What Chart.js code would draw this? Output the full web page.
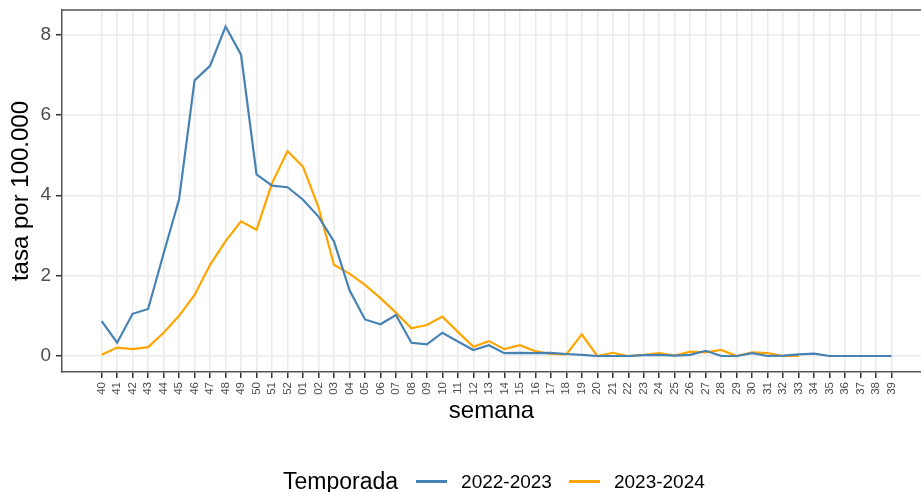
<!DOCTYPE html>
<html>
<head>
<meta charset="utf-8">
<script src="https://cdn.jsdelivr.net/npm/chart.js@4.4.1/dist/chart.umd.min.js"></script>
<style>
  html, body { margin: 0; padding: 0; background: #fff; }
  #wrap { position: relative; width: 921px; height: 492px; overflow: hidden; }
  #legend {
    position: absolute; left: 283px; top: 468px;
    display: flex; align-items: center; white-space: nowrap;
    font-family: 'Liberation Sans', Arial, sans-serif; color: #000;
  }
  #legend .ttl { font-size: 23px; margin-right: 18px; }
  #legend .key { width: 31px; height: 2.5px; margin-right: 14px; }
  #legend .lbl { font-size: 19px; margin-right: 17px; }
</style>
</head>
<body>
<div id="wrap">
  <canvas id="chart" width="921" height="492"></canvas>
  <div id="legend"></div>
</div>
<script>
// semanas epidemiologicas (temporada 40 -> 39)
const weeks = ['40','41','42','43','44','45','46','47','48','49','50','51','52',
  '01','02','03','04','05','06','07','08','09','10','11','12','13','14','15','16','17','18','19','20',
  '21','22','23','24','25','26','27','28','29','30','31','32','33','34','35','36','37','38','39'];

const rate2022 = [0.87, 0.33, 1.05, 1.17, 2.55, 3.9, 6.86, 7.22, 8.2, 7.5, 4.52, 4.24, 4.2,
  3.89, 3.47, 2.85, 1.64, 0.91, 0.79, 1.02, 0.33, 0.29, 0.58, 0.36, 0.15, 0.27, 0.07, 0.08, 0.07, 0.08, 0.05, 0.03, 0.0,
  0.0, 0.0, 0.02, 0.03, 0.01, 0.03, 0.13, 0.0, 0.0, 0.07, 0.0, 0.01, 0.04, 0.06, 0.0, 0.0, 0.0, 0.0, 0.0];

const rate2023 = [0.03, 0.21, 0.17, 0.22, 0.58, 1.0, 1.52, 2.27, 2.86, 3.35, 3.14, 4.3, 5.1,
  4.71, 3.7, 2.27, 2.05, 1.77, 1.44, 1.08, 0.69, 0.77, 0.98, 0.6, 0.23, 0.37, 0.17, 0.27, 0.12, 0.05, 0.04, 0.54, 0.0,
  0.08, 0.0, 0.03, 0.07, 0.01, 0.11, 0.09, 0.15, 0.0, 0.09, 0.07, 0.0, 0.0];

const yTicks = [0, 2, 4, 6, 8];

const seasons = [
  { label: '2022-2023', values: rate2022, color: '#4682b4' },
  { label: '2023-2024', values: rate2023, color: '#ffa500' }
];

Chart.defaults.font.family = "'Liberation Sans', Arial, sans-serif";

const toPoints = arr => arr.map((v, i) => ({ x: i, y: v }));

// borde superior del panel
const topBorder = {
  id: 'topBorder',
  afterDraw(chart) {
    const { ctx, chartArea } = chart;
    ctx.save();
    ctx.strokeStyle = '#555';
    ctx.lineWidth = 1.5;
    ctx.beginPath();
    ctx.moveTo(chartArea.left, chartArea.top);
    ctx.lineTo(chartArea.right, chartArea.top);
    ctx.stroke();
    ctx.restore();
  }
};

const gridOpts = { color: '#ebebeb', lineWidth: 1.5, tickColor: '#333', tickLength: 6, tickWidth: 1.5 };
const borderOpts = { color: '#555', width: 1.5 };

new Chart(document.getElementById('chart'), {
  type: 'line',
  data: {
    datasets: seasons.map(s => ({
      label: s.label,
      data: toPoints(s.values),
      borderColor: s.color,
      backgroundColor: s.color,
      borderWidth: 2.2,
      pointRadius: 0,
      tension: 0,
      fill: false
    }))
  },
  options: {
    responsive: false,
    animation: false,
    devicePixelRatio: 1,
    layout: { padding: { top: 10, right: 0, left: 0, bottom: 0 } },
    plugins: { legend: { display: false }, tooltip: { enabled: false } },
    scales: {
      x: {
        type: 'linear',
        min: -2.56,
        max: 52.9,
        afterBuildTicks: s => { s.ticks = weeks.map((w, i) => ({ value: i })); },
        afterFit: s => { s.height = 120; s.paddingLeft = 0; s.paddingRight = 0; },
        ticks: {
          autoSkip: false, maxRotation: 90, minRotation: 90, padding: 4,
          color: '#4d4d4d', font: { size: 11.5 },
          callback: v => weeks[v]
        },
        grid: gridOpts,
        border: borderOpts,
        title: { display: true, text: 'semana', color: '#000', font: { size: 24 }, padding: { top: 0, bottom: 66 } }
      },
      y: {
        min: -0.398,
        max: 8.61,
        afterBuildTicks: s => { s.ticks = yTicks.map(v => ({ value: v })); },
        afterFit: s => { s.width = 62; s.paddingTop = 0; s.paddingBottom = 0; },
        ticks: { color: '#4d4d4d', font: { size: 19 }, padding: 5 },
        grid: gridOpts,
        border: borderOpts,
        title: { display: true, text: 'tasa por 100.000', color: '#000', font: { size: 24 }, padding: { top: 7, bottom: 0 } }
      }
    }
  },
  plugins: [topBorder]
});

// leyenda
const legend = document.getElementById('legend');
legend.innerHTML = '<span class="ttl">Temporada</span>' + seasons.map(s =>
  `<span class="key" style="background:${s.color}"></span><span class="lbl">${s.label}</span>`).join('');
</script>
</body>
</html>
